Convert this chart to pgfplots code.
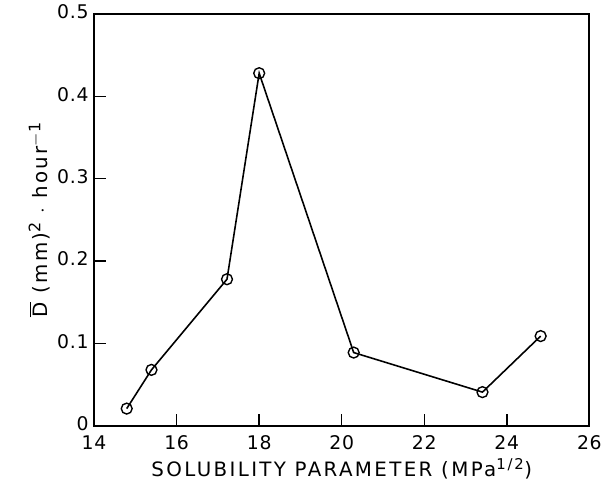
\documentclass[border=0pt]{standalone}
\usepackage{amsmath}
\usepackage{fontspec}
\setmainfont{DejaVu Sans}
\newfontfamily\lbl[LetterSpace=12]{DejaVu Sans}
\newfontfamily\tck[LetterSpace=4]{DejaVu Sans}
\usepackage{pgfplots}
\pgfplotsset{compat=1.18}

\begin{document}
\begin{tikzpicture}
\begin{axis}[
    scale only axis,
    width=500pt, height=416pt,
    xmin=14, xmax=26,
    ymin=0, ymax=0.5,
    xtick={14,16,18,20,22,24,26},
    ytick={0,0.1,0.2,0.3,0.4,0.5},
    yticklabels={0,0.1,0.2,0.3,0.4,0.5},
    xtick pos=left, ytick pos=left,
    tick align=inside,
    major tick length=12pt,
    axis line style={line width=1.8pt},
    every tick/.style={draw=black, line width=1.4pt},
    /pgf/number format/assume math mode=true,
    ticklabel style={font=\tck\fontsize{19}{22}\selectfont},
    xticklabel style={yshift=-6pt},
    yticklabel style={xshift=-2pt, yshift=2pt},
    xlabel={\lbl\fontsize{20}{24}\selectfont SOLUBILITY PARAMETER (MPa$^{\text{\fontsize{15}{17}\selectfont 1/2}}$)},
    ylabel={\lbl\fontsize{20}{24}\selectfont $\overline{\text{D}}$ (mm)$^{\text{\fontsize{16}{18}\selectfont 2}}$ $\cdot$ hour$^{\text{\fontsize{16}{18}\selectfont $-$1}}$},
    xlabel style={yshift=-2pt},
    ylabel style={yshift=0pt},
]
\addplot[black, line width=1.6pt, mark=o, mark size=5.5pt,
    mark options={fill=white, line width=1.4pt}]
    coordinates {
    (14.79,0.021)(15.39,0.068)(17.22,0.178)(18.0,0.428)
    (20.29,0.089)(23.41,0.041)(24.82,0.109)
    };
\end{axis}
\path[draw=none] ([shift={(-95pt,-59pt)}]current axis.south west)
    rectangle ([shift={(10pt,14pt)}]current axis.north east);
\end{tikzpicture}
\end{document}
